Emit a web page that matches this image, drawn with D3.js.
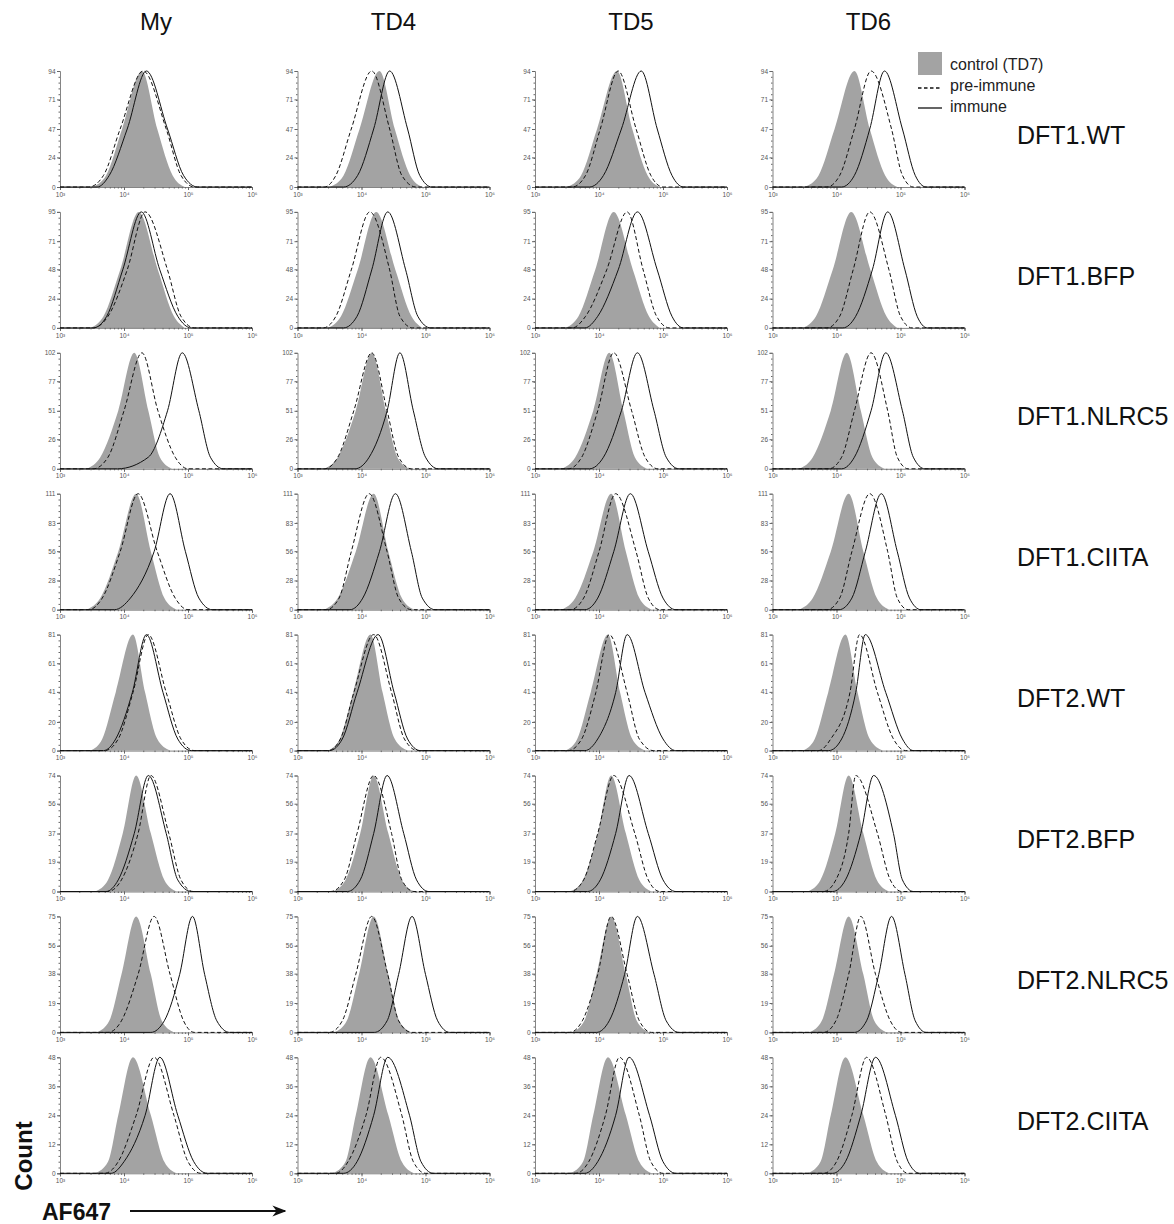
<!DOCTYPE html>
<html>
<head>
<meta charset="utf-8">
<script src="https://cdn.jsdelivr.net/npm/d3@7"></script>
<style>
  body { margin: 0; background: #fff; }
  svg { font-family: "Liberation Sans", Arial, sans-serif; }
</style>
</head>
<body>
<svg id="chart"></svg>
<script>
const COLS = ["My", "TD4", "TD5", "TD6"];
const ROWS = ["DFT1.WT", "DFT1.BFP", "DFT1.NLRC5", "DFT1.CIITA", "DFT2.WT", "DFT2.BFP", "DFT2.NLRC5", "DFT2.CIITA"];
const Y_TICKS = [
  [0, 24, 47, 71, 94], [0, 24, 48, 71, 95], [0, 26, 51, 77, 102], [0, 28, 56, 83, 111],
  [0, 20, 41, 61, 81], [0, 19, 37, 56, 74], [0, 19, 38, 56, 75], [0, 12, 24, 36, 48]
];
const X_TICKS = [3, 4, 5, 6];

// every curve: log10(AF647) where it leaves 0, crosses 10%, 50%, its peak, 50%, 10%, back to 0
const LEVELS = [0, 10, 50, 100, 50, 10, 0]; // % of mode

// control (TD7), one per row, same in all columns
const CONTROL = [
  [3.50, 3.72, 3.97, 4.28, 4.52, 4.76, 4.95],
  [3.48, 3.68, 3.94, 4.23, 4.53, 4.78, 4.95],
  [3.42, 3.63, 3.91, 4.16, 4.38, 4.56, 4.75],
  [3.42, 3.63, 3.91, 4.19, 4.42, 4.63, 4.82],
  [3.48, 3.66, 3.87, 4.14, 4.33, 4.52, 4.72],
  [3.55, 3.75, 3.98, 4.19, 4.42, 4.63, 4.82],
  [3.58, 3.77, 3.96, 4.19, 4.42, 4.59, 4.78],
  [3.55, 3.75, 3.91, 4.14, 4.42, 4.63, 4.82]
];

// pre-immune, [row][col]
const PRE = [
  [[3.45, 3.68, 3.94, 4.30, 4.66, 4.89, 5.10], [3.42, 3.60, 3.84, 4.16, 4.44, 4.63, 4.85], [3.58, 3.79, 4.02, 4.30, 4.58, 4.81, 5.00], [3.85, 4.05, 4.28, 4.54, 4.86, 5.03, 5.20]],
  [[3.52, 3.75, 4.05, 4.33, 4.68, 4.89, 5.10], [3.40, 3.60, 3.84, 4.13, 4.44, 4.60, 4.80], [3.58, 3.79, 4.12, 4.44, 4.69, 4.90, 5.10], [3.85, 4.05, 4.26, 4.52, 4.82, 5.00, 5.18]],
  [[3.52, 3.75, 4.00, 4.28, 4.53, 4.80, 5.00], [3.42, 3.63, 3.88, 4.16, 4.40, 4.58, 4.78], [3.52, 3.73, 3.98, 4.23, 4.51, 4.72, 4.92], [3.88, 4.08, 4.28, 4.54, 4.80, 4.95, 5.12]],
  [[3.45, 3.66, 3.94, 4.22, 4.52, 4.80, 5.00], [3.45, 3.65, 3.84, 4.12, 4.40, 4.58, 4.78], [3.55, 3.76, 4.00, 4.26, 4.58, 4.77, 4.95], [3.85, 4.05, 4.24, 4.52, 4.80, 4.95, 5.12]],
  [[3.70, 3.91, 4.14, 4.38, 4.66, 4.89, 5.10], [3.48, 3.67, 3.88, 4.19, 4.47, 4.67, 4.88], [3.52, 3.73, 3.95, 4.16, 4.44, 4.63, 4.85], [3.72, 3.91, 4.21, 4.36, 4.64, 4.89, 5.08]],
  [[3.75, 3.96, 4.22, 4.42, 4.70, 4.89, 5.08], [3.52, 3.73, 3.93, 4.19, 4.47, 4.63, 4.82], [3.55, 3.76, 3.98, 4.23, 4.56, 4.77, 4.95], [3.80, 3.99, 4.19, 4.30, 4.64, 4.84, 5.02]],
  [[3.75, 3.96, 4.22, 4.47, 4.72, 4.93, 5.10], [3.50, 3.70, 3.91, 4.16, 4.41, 4.58, 4.78], [3.54, 3.74, 3.98, 4.19, 4.44, 4.63, 4.82], [3.80, 3.99, 4.19, 4.38, 4.61, 4.84, 5.02]],
  [[3.70, 3.91, 4.19, 4.47, 4.78, 5.00, 5.20], [3.60, 3.79, 4.07, 4.30, 4.63, 4.81, 5.00], [3.64, 3.84, 4.10, 4.32, 4.63, 4.81, 5.00], [3.80, 4.00, 4.24, 4.47, 4.77, 4.95, 5.12]]
];

// immune, [row][col]
const IMMUNE = [
  [[3.58, 3.77, 4.05, 4.35, 4.68, 4.93, 5.15], [3.72, 3.94, 4.19, 4.44, 4.72, 4.91, 5.10], [3.85, 4.07, 4.35, 4.66, 4.91, 5.14, 5.32], [4.08, 4.28, 4.52, 4.75, 5.03, 5.23, 5.40]],
  [[3.52, 3.73, 3.98, 4.27, 4.56, 4.84, 5.05], [3.72, 3.93, 4.16, 4.41, 4.69, 4.88, 5.08], [3.78, 3.98, 4.30, 4.60, 4.91, 5.14, 5.32], [4.10, 4.30, 4.56, 4.80, 5.07, 5.26, 5.42]],
  [[3.90, 4.38, 4.68, 4.91, 5.17, 5.35, 5.55], [3.90, 4.12, 4.40, 4.60, 4.81, 5.00, 5.20], [3.85, 4.07, 4.35, 4.60, 4.86, 5.05, 5.25], [4.08, 4.28, 4.54, 4.77, 5.03, 5.20, 5.38]],
  [[3.85, 4.10, 4.47, 4.72, 4.96, 5.17, 5.38], [3.82, 4.02, 4.28, 4.53, 4.78, 4.95, 5.15], [3.78, 3.98, 4.23, 4.49, 4.77, 5.00, 5.20], [4.04, 4.24, 4.45, 4.70, 4.95, 5.14, 5.32]],
  [[3.68, 3.87, 4.13, 4.35, 4.61, 4.84, 5.05], [3.50, 3.70, 3.93, 4.26, 4.51, 4.72, 4.92], [3.78, 3.98, 4.26, 4.44, 4.72, 5.00, 5.20], [3.88, 4.08, 4.30, 4.45, 4.77, 5.03, 5.20]],
  [[3.72, 3.91, 4.16, 4.38, 4.66, 4.84, 5.05], [3.78, 3.98, 4.19, 4.40, 4.66, 4.86, 5.05], [3.82, 4.02, 4.26, 4.47, 4.77, 5.00, 5.20], [3.94, 4.14, 4.38, 4.58, 4.89, 5.03, 5.20]],
  [[4.42, 4.63, 4.87, 5.07, 5.26, 5.45, 5.65], [4.20, 4.40, 4.58, 4.79, 5.00, 5.19, 5.38], [3.96, 4.16, 4.40, 4.60, 4.86, 5.05, 5.25], [4.28, 4.47, 4.66, 4.86, 5.07, 5.23, 5.40]],
  [[3.80, 4.00, 4.33, 4.56, 4.84, 5.09, 5.30], [3.72, 3.93, 4.19, 4.41, 4.75, 4.93, 5.12], [3.78, 3.98, 4.26, 4.47, 4.79, 5.00, 5.20], [3.94, 4.14, 4.38, 4.61, 4.92, 5.12, 5.30]]
];

const LEGEND = ["control (TD7)", "pre-immune", "immune"];

const width = 1174;
const height = 1224;
const panelW = 192;
const panelH = 116;
const colStep = 237.5;
const rowStep = 140.9;
const left0 = 60;
const top0 = 71;

const svg = d3.select("#chart").attr("width", width).attr("height", height);

const x = d3.scaleLog().domain([1e3, 1e6]).range([0, panelW]);
const sup = ["\u2070", "\u00b9", "\u00b2", "\u00b3", "\u2074", "\u2075", "\u2076"];

// turn a curve's 7 positions into points, running along 0 across the whole axis
const toPoints = (pos, max) => {
  const pts = pos.map((v, i) => [Math.pow(10, v), (LEVELS[i] / 100) * max]);
  return [[1e3, 0], ...pts, [1e6, 0]];
};

ROWS.forEach((rowName, r) => {
  const max = Y_TICKS[r][Y_TICKS[r].length - 1];
  const y = d3.scaleLinear().domain([0, max]).range([panelH, 0]);

  const line = d3.line().x((d) => x(d[0])).y((d) => y(d[1])).curve(d3.curveMonotoneX);
  const area = d3.area().x((d) => x(d[0])).y0(y(0)).y1((d) => y(d[1])).curve(d3.curveMonotoneX);

  COLS.forEach((colName, c) => {
    const g = svg
      .append("g")
      .attr("transform", `translate(${left0 + c * colStep}, ${top0 + r * rowStep})`);

    // control fill
    g.append("path")
      .attr("d", area(toPoints(CONTROL[r], max).slice(1, -1)))
      .attr("fill", "#a3a3a3");

    // minor y ticks
    g.append("g")
      .call(d3.axisLeft(y).tickValues(d3.range(0, max, max / 20)).tickSize(1.5).tickFormat(""))
      .call((a) => a.select(".domain").remove())
      .selectAll("line").attr("stroke", "#666");

    // y axis
    const ya = g.append("g").call(d3.axisLeft(y).tickValues(Y_TICKS[r]).tickSize(3).tickPadding(1.5));
    ya.select(".domain").attr("stroke", "#666").attr("stroke-width", 0.8);
    ya.selectAll("line").attr("stroke", "#666");
    ya.selectAll("text").attr("font-size", 6.5).attr("fill", "#555").attr("font-family", "Liberation Sans, Arial");

    // x axis, log minor ticks then labelled decades
    g.append("g")
      .attr("transform", `translate(0, ${panelH})`)
      .call(d3.axisBottom(x).tickValues(x.ticks()).tickSize(1.5).tickFormat(""))
      .call((a) => a.select(".domain").remove())
      .selectAll("line").attr("stroke", "#666");

    const xa = g
      .append("g")
      .attr("transform", `translate(0, ${panelH})`)
      .call(d3.axisBottom(x).tickValues(X_TICKS.map((e) => Math.pow(10, e))).tickSize(3).tickPadding(2));
    xa.select(".domain").attr("stroke", "#666").attr("stroke-width", 0.8);
    xa.selectAll("line").attr("stroke", "#666");
    xa.selectAll("text")
      .attr("font-size", 6.5)
      .attr("fill", "#555")
      .attr("font-family", "Liberation Sans, Arial")
      .text((d) => "10" + sup[Math.round(Math.log10(d))]);

    // pre-immune dashed
    g.append("path")
      .attr("d", line(toPoints(PRE[r][c], max)))
      .attr("fill", "none")
      .attr("stroke", "#111")
      .attr("stroke-width", 1)
      .attr("stroke-dasharray", "4,2.5");

    // immune solid
    g.append("path")
      .attr("d", line(toPoints(IMMUNE[r][c], max)))
      .attr("fill", "none")
      .attr("stroke", "#111")
      .attr("stroke-width", 1);
  });

  // row label
  svg
    .append("text")
    .attr("x", 1017)
    .attr("y", top0 + r * rowStep + 66)
    .attr("dominant-baseline", "middle")
    .attr("font-size", 25)
    .attr("fill", "#111")
    .text(rowName);
});

// column titles
COLS.forEach((name, c) => {
  svg
    .append("text")
    .attr("x", left0 + c * colStep + panelW / 2)
    .attr("y", 30)
    .attr("text-anchor", "middle")
    .attr("font-size", 24)
    .attr("fill", "#111")
    .text(name);
});

// legend
const lg = svg.append("g").attr("transform", "translate(918, 52)");
lg.append("rect").attr("width", 24).attr("height", 23).attr("fill", "#a3a3a3");
lg.append("line").attr("x1", 0).attr("x2", 24).attr("y1", 36).attr("y2", 36)
  .attr("stroke", "#111").attr("stroke-width", 1.3).attr("stroke-dasharray", "3.5,2.5");
lg.append("line").attr("x1", 0).attr("x2", 24).attr("y1", 56).attr("y2", 56)
  .attr("stroke", "#111").attr("stroke-width", 1.3);
LEGEND.forEach((t, i) => {
  lg.append("text")
    .attr("x", 32)
    .attr("y", 18 + i * 21)
    .attr("font-size", 16)
    .attr("fill", "#222")
    .text(t);
});

// axis captions
svg
  .append("text")
  .attr("transform", "translate(32, 1156) rotate(-90)")
  .attr("text-anchor", "middle")
  .attr("font-size", 24)
  .attr("font-weight", "bold")
  .attr("fill", "#111")
  .text("Count");

svg
  .append("text")
  .attr("x", 42)
  .attr("y", 1220)
  .attr("font-size", 23)
  .attr("font-weight", "bold")
  .attr("fill", "#111")
  .text("AF647");

const defs = svg.append("defs");
defs.append("marker")
  .attr("id", "arrow")
  .attr("viewBox", "0 0 10 10")
  .attr("refX", 9)
  .attr("refY", 5)
  .attr("markerWidth", 7)
  .attr("markerHeight", 7)
  .attr("orient", "auto")
  .append("path")
  .attr("d", "M0,1 L10,5 L0,9 L3,5 Z")
  .attr("fill", "#111");

svg
  .append("line")
  .attr("x1", 130)
  .attr("x2", 285)
  .attr("y1", 1211)
  .attr("y2", 1211)
  .attr("stroke", "#111")
  .attr("stroke-width", 2)
  .attr("marker-end", "url(#arrow)");
</script>
</body>
</html>
